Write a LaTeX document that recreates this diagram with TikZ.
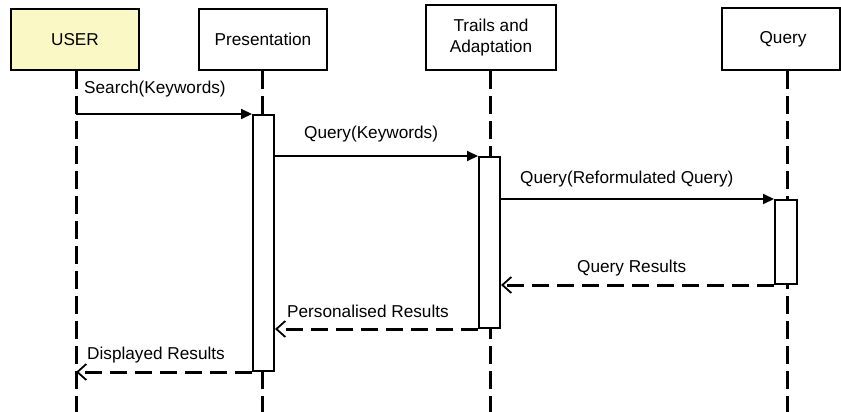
\documentclass[tikz,border=0pt]{standalone}
\usepackage{fontspec}
\setmainfont{Liberation Sans}
\usetikzlibrary{arrows.meta}
\definecolor{userfill}{RGB}{250,248,196}
\tikzset{
 head/.style={draw, line width=2pt, minimum height=61pt, inner sep=0pt, align=center, font=\fontsize{17.2}{21}\selectfont},
 life/.style={line width=3pt, dash pattern=on 18pt off 7pt},
 act/.style={draw, fill=white, line width=2pt, minimum width=21pt, inner sep=0pt},
 call/.style={line width=2pt, -{Triangle[length=11pt,width=10pt]}},
 reply/.style={line width=3pt, dash pattern=on 17pt off 8pt, -{Straight Barb[length=9pt,width=16pt,line width=1.8pt]}},
 lbl/.style={anchor=base west, inner sep=0pt, font=\fontsize{17.2}{21}\selectfont},
}
\begin{document}
\begin{tikzpicture}[x=1pt,y=-1pt]
\useasboundingbox (0,0) rectangle (841,412);
% heads
\node[head, fill=userfill, minimum width=128pt] (user) at (75,39.5) {USER};
\node[head, minimum width=128pt] (pres) at (263,39.5) {Presentation};
\node[head, minimum width=130pt, minimum height=65pt] (trail) at (491,37.5) {Trails and\\Adaptation};
\node[head, minimum width=118pt, minimum height=62pt, text width=118pt, align=center, xshift=0pt] (query) at (781,39) {\hspace*{4pt}Query};
% lifeline ends
\coordinate (uend) at (76,412);
\coordinate (pend) at (262,412);
\coordinate (tend) at (490,412);
\coordinate (qend) at (787,412);
\draw[life] (uend |- user.south) -- (uend);
\draw[life] (pend |- pres.south) -- (pend);
\draw[life] (tend |- trail.south) -- (tend);
\draw[life] (qend |- query.south) -- (qend);
% activations
\node[act, minimum height=256pt] (actP) at (263.5,243) {};
\node[act, minimum height=171pt] (actT) at (489.5,242.5) {};
\node[act, minimum width=22pt, minimum height=84pt] (actQ) at (786,242) {};
% messages
\draw[call] (uend |- actP.north) -- (actP.north west);
\draw[call] (actP.east |- actT.north) -- (actT.north west);
\draw[call] (actT.east |- actQ.north) -- (actQ.north west);
\draw[reply] (actQ.south west) -- (actT.east |- actQ.south);
\draw[reply] (actT.south west) -- (actP.east |- actT.south);
\draw[reply] (actP.south west) -- (uend |- actP.south);
% labels
\node[lbl] (l1) at (84,93) {Search(Keywords)};
\node[lbl] (l2) at (304,138) {Query(Keywords)};
\node[lbl] (l3) at (520,183) {Query(Reformulated Query)};
\node[lbl] (l4) at (577,272) {Query Results};
\node[lbl] (l5) at (287,317) {Personalised Results};
\node[lbl] (l6) at (87,359) {Displayed Results};
\end{tikzpicture}
\end{document}
